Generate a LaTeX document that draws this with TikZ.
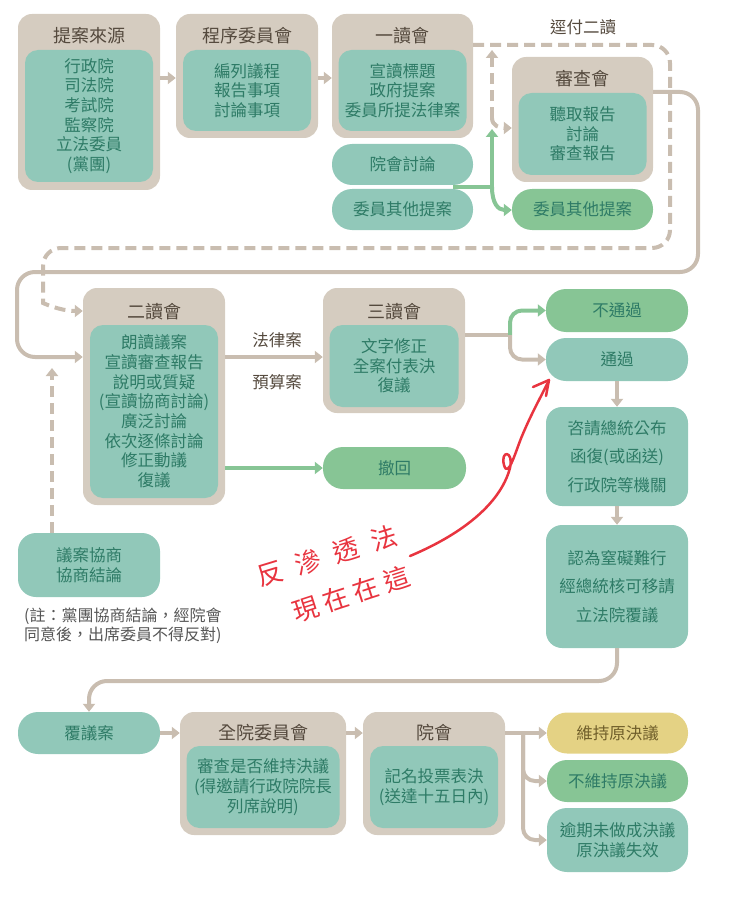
\documentclass[tikz,border=0pt]{standalone}
\usepackage{fontspec}
\setmainfont{Noto Sans CJK TC}
\usetikzlibrary{arrows.meta}
\definecolor{shellclr}{HTML}{D5CCC0}
\definecolor{lineclr}{HTML}{C9BDB0}
\definecolor{boxteal}{HTML}{91C8B9}
\definecolor{boxgreen}{HTML}{87C595}
\definecolor{boxyellow}{HTML}{E4D284}
\definecolor{tealtext}{HTML}{2E7B66}
\definecolor{headtext}{HTML}{54493D}
\definecolor{yellowtext}{HTML}{6F5E2A}
\definecolor{notetext}{HTML}{555555}
\definecolor{pen}{HTML}{E8343F}
\newcommand{\headfont}{\fontsize{18}{21}\selectfont}
\newcommand{\bodyfont}{\fontsize{16.5}{19.7}\selectfont}
\newcommand{\widefont}{\fontsize{16.5}{28.5}\selectfont}
\newcommand{\notefont}{\fontsize{16}{19}\selectfont}
\newcommand{\penfont}{\fontsize{26}{30}\selectfont}

\begin{document}
\begin{tikzpicture}[x=1pt,y=-1pt,
  shell/.style={fill=shellclr,rounded corners=14pt,minimum width=142pt},
  panel/.style={fill=boxteal,rounded corners=13pt,minimum width=128pt,text=tealtext,align=center,font=\bodyfont,inner sep=0pt},
  head/.style={text=headtext,font=\headfont},
  pill/.style={fill=boxteal,rounded corners=20pt,minimum width=142pt,minimum height=42pt,text=tealtext,align=center,font=\bodyfont},
  tag/.style={text=headtext,font=\bodyfont},
  conn/.style={draw=lineclr,line width=4pt,-{Triangle[length=8pt,width=12pt]}},
  gconn/.style={conn,draw=boxgreen},
  dconn/.style={conn,dash pattern=on 11pt off 6pt},
  redpen/.style={draw=pen,line width=2.5pt,line cap=round,line join=round}]
\useasboundingbox (0,0) rectangle (728,904);

% first row
\draw (89,102) node[shell,minimum height=176pt](src) {};
\draw (89,36) node[head](srcT) {提案來源};
\draw (89,116) node[panel,minimum height=132pt](srcP) {行政院\\司法院\\考試院\\監察院\\立法委員\\(黨團)};
\draw (247,76) node[shell,minimum height=124pt](prog) {};
\draw (247,36) node[head](progT) {程序委員會};
\draw (247,90.5) node[panel,minimum height=81pt](progP) {編列議程\\報告事項\\討論事項};
\draw (402.5,76) node[shell,minimum width=141pt,minimum height=124pt](first) {};
\draw (402.5,36) node[head](firstT) {一讀會};
\draw (402.5,90.5) node[panel,minimum height=81pt](firstP) {宣讀標題\\政府提案\\委員所提法律案};
\draw (402.5,164.5) node[pill,minimum width=141pt,minimum height=41pt](disc) {院會討論};
\draw (402.5,209.5) node[pill,minimum width=141pt,minimum height=41pt](motion) {委員其他提案};
\draw (582.5,119.5) node[shell,minimum width=141pt,minimum height=125pt](review) {};
\draw (582.5,79) node[head](reviewT) {審查會};
\draw (582.5,134) node[panel,minimum height=82pt](reviewP) {聽取報告\\討論\\審查報告};
\draw (582.5,209.5) node[pill,fill=boxgreen,minimum width=141pt,minimum height=41pt](motion2) {委員其他提案};
\draw (583,27) node[tag](direct) {逕付二讀};

% second row
\draw (154,396.5) node[shell,minimum height=217pt](second) {};
\draw (154,312) node[head](secondT) {二讀會};
\draw (154,411.5) node[panel,minimum height=173pt](secondP) {朗讀議案\\宣讀審查報告\\說明或質疑\\(宣讀協商討論)\\廣泛討論\\依次逐條討論\\修正動議\\復議};
\draw (394,350.5) node[shell,minimum height=125pt](third) {};
\draw (394,312) node[head](thirdT) {三讀會};
\draw (394,366) node[panel,minimum width=129pt,minimum height=82pt](thirdP) {文字修正\\全案付表決\\復議};
\draw (277,340) node[tag](lawT) {法律案};
\draw (277,382) node[tag](budgetT) {預算案};
\draw (394.5,468) node[pill,fill=boxgreen,minimum width=143pt](withdraw) {撤回};
\draw (617,310.5) node[pill,fill=boxgreen,minimum height=43pt](fail) {不通過};
\draw (617,359.5) node[pill,minimum height=43pt](pass) {通過};
\draw (617,456.5) node[pill,rounded corners=16pt,minimum height=99pt,font=\widefont](promul) {咨請總統公布\\函復(或函送)\\行政院等機關};
\draw (617,586.5) node[pill,rounded corners=16pt,minimum height=123pt,font=\widefont](veto) {認為窒礙難行\\經總統核可移請\\立法院覆議};
\draw (89,565) node[pill,rounded corners=18pt,minimum height=64pt](neg) {議案協商\\協商結論};
\draw (24,608) node[anchor=north west,align=left,inner sep=0pt,text=notetext,font=\notefont](note) {(註：黨團協商結論，經院會\\同意後，出席委員不得反對)};

% third row
\draw (89,733) node[pill](rec) {覆議案};
\draw (263,773.5) node[shell,minimum width=166pt,minimum height=123pt](whole) {};
\draw (263,733) node[head](wholeT) {全院委員會};
\draw (263,787) node[panel,minimum width=153pt,minimum height=82pt](wholeP) {審查是否維持決議\\(得邀請行政院院長\\列席說明)};
\draw (434,773.5) node[shell,minimum height=123pt](plenary) {};
\draw (434,733) node[head](plenaryT) {院會};
\draw (434,787) node[panel,minimum height=82pt](plenaryP) {記名投票表決\\(送達十五日內)};
\draw (617.5,733) node[pill,fill=boxyellow,text=yellowtext,minimum width=141pt,minimum height=41pt](keep) {維持原決議};
\draw (617.5,781) node[pill,fill=boxgreen,minimum width=141pt](nokeep) {不維持原決議};
\draw (617.5,840) node[pill,minimum width=141pt,minimum height=64pt](expire) {逾期未做成決議\\原決議失效};

% connectors
\coordinate (fork) at (492,118);
\coordinate (forkTop) at (492,50);
\coordinate (gstart) at (453,187);
\coordinate (gjoin) at (492,187);
\coordinate (gup) at (492,129);
\coordinate (negTip) at (52,368);
\coordinate (split3) at (510,335);
\coordinate (split4) at (523,733);
\draw[conn] (src.east |- 0,78) -- (prog.west |- 0,78);
\draw[conn] (prog.east |- 0,78) -- (first.west |- 0,78);
\draw[conn,rounded corners=18pt] (review.east |- 0,92) -- (698,92) -- (698,272) -- (17,272) -- (17,357) -- (second.west |- 0,357);
\draw[dconn,rounded corners=18pt] (first.east |- 0,45) -- (670,45) -- (670,248) -- (43,248) -- (43,285) .. controls (43,303) and (60,311) .. (second.west |- 0,311);
\draw[dconn] (fork) -- (forkTop);
\draw[dconn] (fork) .. controls (492,126) and (500,128) .. (review.west |- 0,128);
\draw[gconn] (gstart) -| (gup);
\draw[gconn] (gjoin) .. controls (492,203) and (498,210) .. (motion2.west |- 0,210);
\draw[dconn] (neg.north -| 52,0) -- (negTip);
\draw[conn] (second.east |- 0,357) -- (third.west |- 0,357);
\draw[gconn] (second.east |- withdraw) -- (withdraw.west);
\draw[draw=lineclr,line width=4pt] (third.east |- split3) -- (split3);
\draw[gconn,rounded corners=12pt] (split3) |- (fail.west);
\draw[conn,rounded corners=12pt] (split3) |- (pass.west);
\draw[conn] (pass.south) -- (promul.north);
\draw[conn] (promul.south) -- (veto.north);
\draw[conn,rounded corners=18pt] (veto.south) -- (veto.south |- 0,681) -- (rec.north |- 0,681) -- (rec.north);
\draw[conn] (rec.east) -- (whole.west |- rec.east);
\draw[conn] (whole.east |- rec) -- (plenary.west |- rec);
\draw[conn] (plenary.east |- keep) -- (keep.west);
\draw[conn,rounded corners=12pt] (split4) |- (nokeep.west);
\draw[conn,rounded corners=12pt] (split4) |- (expire.west);

% handwritten note
\draw (327,556) node[rotate=17,text=pen,font=\penfont](pen1) {反\hspace{14pt}滲\hspace{14pt}透\hspace{14pt}法};
\draw (351,594) node[rotate=18,text=pen,font=\penfont](pen2) {現\hspace{6pt}在\hspace{6pt}在\hspace{6pt}這};
\coordinate (redstart) at (410,556);
\coordinate (redtip) at (549,380);
\draw[redpen] (redstart) .. controls (460,535) and (500,505) .. (510,468) .. controls (514,450) and (500,450) .. (504,465) .. controls (508,480) and (516,450) .. (522,436) .. controls (532,412) and (542,395) .. (redtip);
\draw[redpen] (533,387) -- (redtip) -- (546,396);
\end{tikzpicture}
\end{document}
